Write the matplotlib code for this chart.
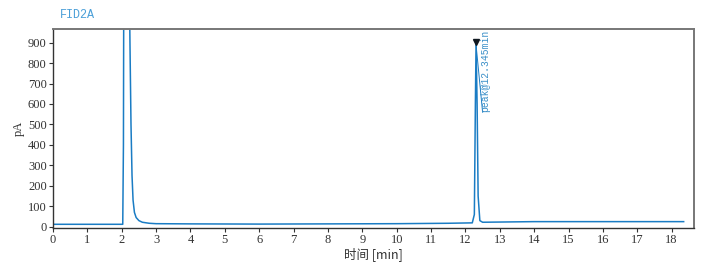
import matplotlib
matplotlib.use("Agg")
import matplotlib.pyplot as plt

# Chromatogram trace (time in min, signal in pA)
time_min = [0.0, 1.0, 2.0, 2.03, 2.05, 2.06, 2.22, 2.24, 2.27, 2.30, 2.33, 2.37, 2.42,
            2.5, 2.6, 2.8, 3.0, 4.0, 6.0, 8.0, 10.0, 11.5, 12.2, 12.26, 12.29,
            12.31, 12.34, 12.37, 12.42, 12.5, 13.0, 14.0, 15.0, 16.0, 17.0, 18.35]
signal_pa = [12, 12, 12, 12, 400, 1200, 1200, 900, 500, 250, 130, 70, 45,
             30, 22, 17, 15, 14, 13, 14, 15, 17, 19, 60, 600,
             900, 600, 150, 30, 22, 23, 25, 25, 25, 25, 25]

peak_time = 12.3
peak_height = 905
peak_label = "peak@12.345min"
signal_name = "FID2A"
x_ticks = list(range(0, 19))
y_ticks = list(range(0, 1000, 100))

plt.rcParams['font.family'] = ['Liberation Serif', 'Noto Sans CJK SC', 'DejaVu Sans']

fig = plt.figure(figsize=(7.13, 2.64), dpi=100)
ax = fig.add_axes([0.0743, 0.138, 0.8995, 0.751])

line_color = "#1a7cc4"
ax.plot(time_min, signal_pa, color=line_color, lw=1.1, clip_on=True)
ax.plot([peak_time], [peak_height], marker="v", color="#101820", ms=5, zorder=5)
ax.plot([peak_time, 12.5], [peak_height, 560], color=line_color, lw=0.7)
ax.text(12.57, 560, peak_label, rotation=90, color="#3a8fc8", fontsize=7,
        ha="center", va="bottom", family=['Liberation Mono', 'DejaVu Sans'])

ax.set_xlim(0, 18.66)
ax.set_ylim(-4, 965)
ax.set_xticks(x_ticks)
ax.set_yticks(y_ticks)
ax.tick_params(direction="out", length=3, width=0.8, labelsize=9, pad=1.5, colors="#333333")

for s in ["top", "right"]:
    ax.spines[s].set_color("#777777")
    ax.spines[s].set_linewidth(1.4)
for s in ["left", "bottom"]:
    ax.spines[s].set_color("#333333")
    ax.spines[s].set_linewidth(1.0)

ax.set_ylabel("pA", fontsize=9, labelpad=2, color="#333333")
ax.set_xlabel("时间 [min]", fontsize=9, labelpad=1, color="#333333",
              family=['Noto Sans CJK SC', 'DejaVu Sans'])
fig.text(60 / 713, 1 - 15 / 264, signal_name, color="#4a9fd8", fontsize=8.5,
         ha="left", va="center", family=['Liberation Mono', 'DejaVu Sans Mono'])

fig.savefig("out.png", dpi=100)
